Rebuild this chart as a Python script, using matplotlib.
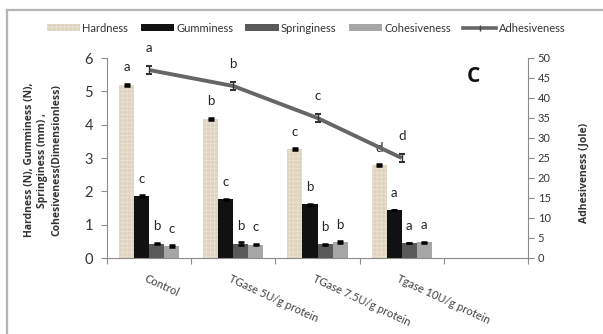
import numpy as np
import matplotlib
matplotlib.use("Agg")
import matplotlib.pyplot as plt
from matplotlib.lines import Line2D
from matplotlib.transforms import blended_transform_factory

plt.rcParams['font.family'] = ['Lato', 'DejaVu Sans']
plt.rcParams['hatch.linewidth'] = 0.5

groups = ['Control', 'TGase 5U/g protein', 'TGase 7.5U/g protein', 'Tgase 10U/g protein']

hardness = [5.20, 4.18, 3.27, 2.78]
gumminess = [1.85, 1.76, 1.61, 1.44]
springiness = [0.43, 0.43, 0.41, 0.45]
cohesiveness = [0.36, 0.40, 0.48, 0.47]
adhesiveness = [47, 43, 35, 25]

hardness_err = [0.03, 0.03, 0.03, 0.03]
gumminess_err = [0.03, 0.01, 0.01, 0.01]
springiness_err = [0.01, 0.04, 0.02, 0.01]
cohesiveness_err = [0.02, 0.02, 0.02, 0.01]
adhesiveness_err = [1.0, 1.0, 1.0, 1.0]

hardness_sig = ['a', 'b', 'c', 'd']
gumminess_sig = ['c', 'c', 'b', 'a']
springiness_sig = ['b', 'b', 'b', 'a']
cohesiveness_sig = ['c', 'c', 'b', 'a']
adhesiveness_sig = ['a', 'b', 'c', 'd']

bold_font = ['Open Sans', 'DejaVu Sans']

fig = plt.figure(figsize=(6.03, 3.34), dpi=100)
ax = fig.add_axes([107 / 603, 1 - 258 / 334, 421 / 603, 200 / 334])
ax2 = ax.twinx()

x = np.arange(len(groups)) + 0.5
w = 0.714 / 4

series = [
    ('Hardness', hardness, hardness_err, hardness_sig, '#ded3bd'),
    ('Gumminess', gumminess, gumminess_err, gumminess_sig, '#111111'),
    ('Springiness', springiness, springiness_err, springiness_sig, '#595959'),
    ('Cohesiveness', cohesiveness, cohesiveness_err, cohesiveness_sig, '#a6a6a6'),
]

handles = []
for i, (name, vals, err, sig, col) in enumerate(series):
    pos = x + (i - 1.5) * w
    if name == 'Hardness':
        b = ax.bar(pos, vals, w, color=col, edgecolor='#ece5d6', linewidth=0,
                   hatch='++++', label=name, zorder=2)
    else:
        b = ax.bar(pos, vals, w, color=col, linewidth=0, label=name, zorder=2)
    ax.errorbar(pos, vals, yerr=err, fmt='none', ecolor='black', elinewidth=1,
                capsize=2.5, capthick=1.8, zorder=3)
    for px, v, s in zip(pos, vals, sig):
        ax.text(px, v + 0.52, s, ha='center', va='center', fontsize=9.5, color='#262626')
    handles.append(b)

ax2.plot(x, adhesiveness, color='#666666', lw=2.8, zorder=4, solid_capstyle='butt')
ax2.errorbar(x, adhesiveness, yerr=adhesiveness_err, fmt='none', ecolor='#333333',
             elinewidth=1, capsize=2.5, capthick=1.5, zorder=5)
for px, v, s in zip(x, adhesiveness, adhesiveness_sig):
    ax2.text(px, v + 5.4, s, ha='center', va='center', fontsize=9.5, color='#262626')
handles.append(Line2D([], [], color='#666666', lw=2.6, marker='|', markersize=5,
                      markeredgecolor='#444444', label='Adhesiveness'))

ax.set_xlim(0, 5)
ax.set_ylim(0, 6)
ax2.set_ylim(0, 50)
ax.set_xticks(np.arange(0, 6))
ax.set_xticklabels([])
ax.set_yticks(np.arange(0, 7))
ax2.set_yticks(np.arange(0, 51, 5))

axis_col = '#8c8c8c'
for a in (ax, ax2):
    a.spines['top'].set_visible(False)
    for s in ('left', 'right', 'bottom'):
        a.spines[s].set_color(axis_col)
ax.spines['right'].set_visible(False)
ax2.spines['left'].set_visible(False)
ax2.spines['bottom'].set_visible(False)
ax.tick_params(axis='x', direction='out', length=4, color=axis_col)
ax.tick_params(axis='y', direction='out', length=4, color=axis_col,
               labelsize=10.5, labelcolor='#333333', pad=6)
ax2.tick_params(axis='y', direction='out', length=4, color=axis_col,
                labelsize=8, labelcolor='#333333', pad=3)

trans = blended_transform_factory(ax.transData, ax.transAxes)
for px, g in zip(x, groups):
    ax.text(px - 0.02, -0.075, g, transform=trans, rotation=-25, rotation_mode='anchor',
            ha='left', va='top', fontsize=8, color='#404040')

fig.text(43 / 603, 1 - 160 / 334,
         'Hardness (N), Gumminess (N),\nSpringiness (mm) ,\nCohesiveness(Dimensionless)',
         rotation=90, ha='center', va='center', fontsize=7.5, fontweight='bold',
         family=bold_font, color='#333333', linespacing=1.3)
fig.text(584 / 603, 1 - 173 / 334, 'Adhesiveness (Jole)', rotation=90,
         ha='center', va='center', fontsize=7.5, fontweight='bold', family=bold_font,
         color='#333333')

fig.text(473 / 603, 1 - 77 / 334, 'C', ha='center', va='center', fontsize=15,
         fontweight='bold', family=bold_font, color='#111111')

fig.legend(handles=handles, labels=[h.get_label() for h in handles], loc='center',
           bbox_to_anchor=(306 / 603, 1 - 28 / 334), ncol=5, frameon=False,
           fontsize=8, handlelength=3.0, handleheight=0.6, handletextpad=0.2,
           columnspacing=1.1, labelcolor='#333333')

# outer frame
frame_col = '#b5b5b5'
fig.add_artist(Line2D([7 / 603, 7 / 603], [0, 1 - 10 / 334], color=frame_col, lw=1.6))
fig.add_artist(Line2D([7 / 603, 1], [1 - 10 / 334, 1 - 10 / 334], color=frame_col, lw=1.6))

fig.savefig('out.png', dpi=100)
